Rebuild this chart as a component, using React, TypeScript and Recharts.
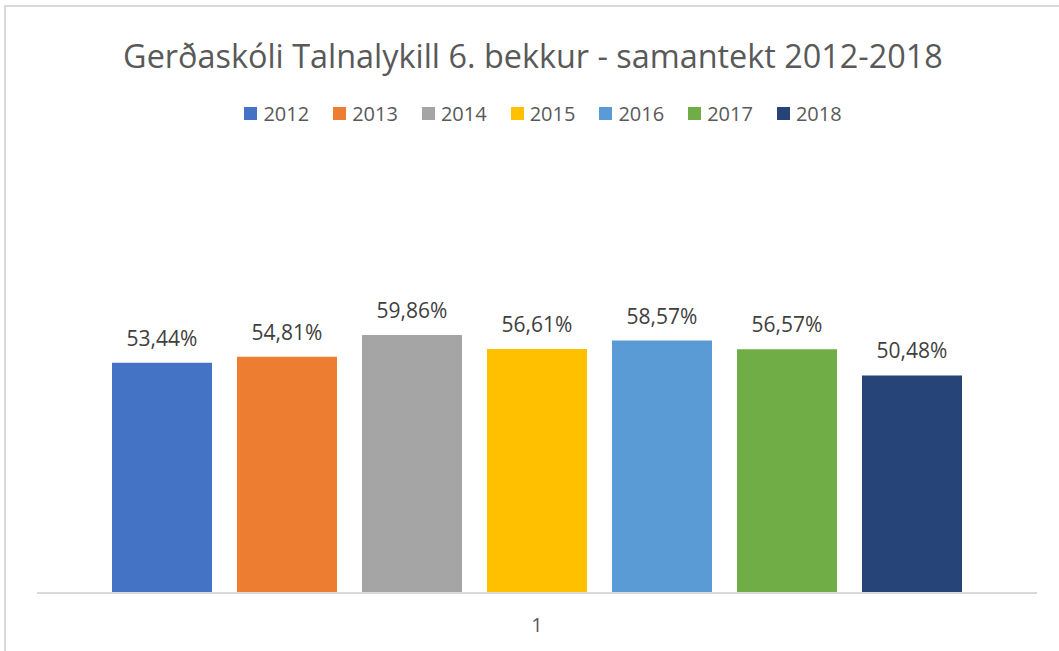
import { BarChart, Bar, XAxis, YAxis, Legend, LabelList } from "recharts";

const years = ["2012", "2013", "2014", "2015", "2016", "2017", "2018"];
const values = [0.5344, 0.5481, 0.5986, 0.5661, 0.5857, 0.5657, 0.5048];
const colors = ["#4472C4", "#ED7D31", "#A5A5A5", "#FFC000", "#5B9BD5", "#70AD47", "#264478"];
const categories = ["1"];

const data = categories.map((name) => {
  const row: Record<string, string | number> = { name };
  years.forEach((y, i) => {
    row[y] = values[i];
  });
  return row;
});

const pct = (v: any) => (Number(v) * 100).toFixed(2).replace(".", ",") + "%";

const font = '"Open Sans", sans-serif';

const renderLegend = () => (
  <div style={{ display: "flex", justifyContent: "center", fontFamily: font, fontSize: 20, color: "#595959", paddingLeft: 12 }}>
    {years.map((y, i) => (
      <div key={y} style={{ display: "flex", alignItems: "center", marginLeft: i === 0 ? 0 : 24 }}>
        <span style={{ width: 13, height: 13, background: colors[i], display: "inline-block", marginRight: 6 }} />
        <span>{y}</span>
      </div>
    ))}
  </div>
);

const App = () => {
  return (
    <div style={{ position: "absolute", left: 0, top: 0, width: 1059, height: 651, background: "#fff" }}>
      <div
        style={{
          position: "absolute",
          left: 4,
          top: 5,
          right: 0,
          bottom: 0,
          borderTop: "2px solid #d9d9d9",
          borderLeft: "2px solid #d9d9d9",
        }}
      />
      <div
        style={{
          position: "absolute",
          left: 0,
          width: 1066,
          top: 34,
          textAlign: "center",
          fontFamily: font,
          fontSize: 32.4,
          color: "#595959",
          lineHeight: "42px",
        }}
      >
        Gerðaskóli Talnalykill 6. bekkur - samantekt 2012-2018
      </div>
      <BarChart
        width={1059}
        height={651}
        data={data}
        margin={{ top: 135, right: 22, left: 37, bottom: 18 }}
        barCategoryGap="7.5%"
        barGap={25}
        style={{ position: "absolute", left: 0, top: 0 }}
      >
        <XAxis
          dataKey="name"
          height={40}
          axisLine={{ stroke: "#d9d9d9", strokeWidth: 2 }}
          tickLine={false}
          tick={{ fill: "#595959", fontSize: 20, fontFamily: font }}
          tickMargin={19}
        />
        <YAxis hide domain={[0, 1]} />
        <Legend verticalAlign="top" content={renderLegend} wrapperStyle={{ top: 100 }} />
        {years.map((y, i) => (
          <Bar key={y} dataKey={y} fill={colors[i]} isAnimationActive={false}>
            <LabelList
              dataKey={y}
              position="top"
              offset={17}
              formatter={pct}
              style={{ fill: "#404040", fontSize: 21, fontFamily: font }}
            />
          </Bar>
        ))}
      </BarChart>
    </div>
  );
};

export default App;
